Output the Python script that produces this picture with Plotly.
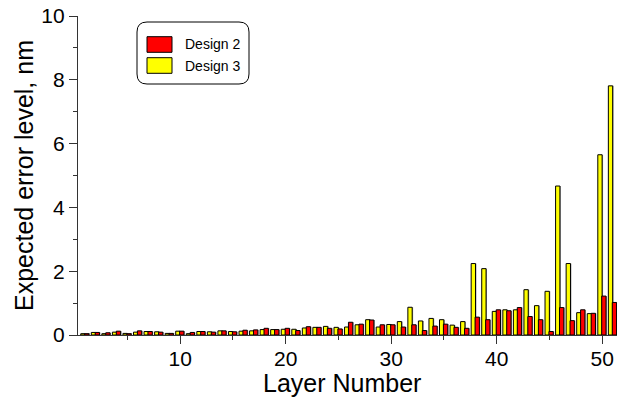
import plotly.graph_objects as go

layers = list(range(1, 52))
design2 = [0.04, 0.08, 0.07, 0.12, 0.04, 0.13, 0.11, 0.09, 0.05, 0.12,
           0.08, 0.11, 0.09, 0.13, 0.10, 0.15, 0.16, 0.21, 0.17, 0.21,
           0.14, 0.26, 0.24, 0.21, 0.19, 0.40, 0.34, 0.47, 0.32, 0.32,
           0.25, 0.32, 0.14, 0.28, 0.34, 0.24, 0.21, 0.56, 0.48, 0.79,
           0.76, 0.86, 0.58, 0.48, 0.11, 0.86, 0.45, 0.79, 0.68, 1.22,
           1.02]
design3 = [0.04, 0.08, 0.04, 0.09, 0.05, 0.09, 0.11, 0.10, 0.05, 0.12,
           0.04, 0.11, 0.10, 0.13, 0.11, 0.12, 0.13, 0.17, 0.17, 0.18,
           0.18, 0.22, 0.24, 0.27, 0.24, 0.25, 0.32, 0.48, 0.25, 0.33,
           0.42, 0.87, 0.44, 0.52, 0.48, 0.31, 0.42, 2.24, 2.08, 0.74,
           0.79, 0.79, 1.42, 0.92, 1.37, 4.67, 2.24, 0.70, 0.67, 5.65,
           7.81]
series_names = ["Design 2", "Design 3"]
series_colors = ["#ff0000", "#ffff00"]
x_tickvals = [10, 20, 30, 40, 50]
y_tickvals = [0, 2, 4, 6, 8, 10]

W, H = 626, 397
ML, MR, MT, MB = 78, 9, 16, 62
PW, PH = W - ML - MR, H - MT - MB

def px2x(p):
    return (p - ML) / PW

def px2y(p):
    return 1 - (p - MT) / PH

FONT = "Liberation Sans, Arial, Helvetica, sans-serif"
BW = 0.41
shadow_dx = 0.09

fig = go.Figure()
# Design 3 (yellow, left) with shadow
fig.add_trace(go.Bar(x=layers, y=design3, offset=-0.42 + shadow_dx, width=BW,
                     marker=dict(color="#9a9a9a", line=dict(width=0)),
                     showlegend=False, hoverinfo="skip"))
fig.add_trace(go.Bar(x=layers, y=design3, offset=-0.42, width=BW, name=series_names[1],
                     marker=dict(color=series_colors[1], line=dict(color="black", width=1)),
                     showlegend=False))
# Design 2 (red, right) with shadow
fig.add_trace(go.Bar(x=layers, y=design2, offset=-0.05 + shadow_dx, width=BW,
                     marker=dict(color="#9a9a9a", line=dict(width=0)),
                     showlegend=False, hoverinfo="skip"))
fig.add_trace(go.Bar(x=layers, y=design2, offset=-0.05, width=BW, name=series_names[0],
                     marker=dict(color=series_colors[0], line=dict(color="black", width=1)),
                     showlegend=False))

axis_common = dict(
    showgrid=False, zeroline=False, showline=True, linecolor="#333", linewidth=1.3,
    ticks="outside", ticklen=8, tickwidth=1, tickcolor="#333", automargin=False,
    tickfont=dict(family=FONT, size=21, color="black"),
)
fig.update_xaxes(range=[0.32, 51.4], tickvals=x_tickvals, ticklabelstandoff=-3,
                 minor=dict(dtick=5, tick0=0, ticks="outside", ticklen=4, tickcolor="#333"),
                 **axis_common)
fig.update_yaxes(range=[0, 10], tickvals=y_tickvals,
                 minor=dict(dtick=1, tick0=0, ticks="outside", ticklen=4, tickcolor="#333"),
                 title=dict(text="Expected error level, nm", font=dict(family=FONT, size=25, color="black"), standoff=0),
                 **axis_common)

# custom legend
x0, x1, y0, y1 = 137, 249, 22, 84
r = 10
rx, ry = r / PW, r / PH
X0, X1, Y0, Y1 = px2x(x0), px2x(x1), px2y(y0), px2y(y1)
path = (f"M {X0+rx},{Y0} L {X1-rx},{Y0} Q {X1},{Y0} {X1},{Y0-ry} "
        f"L {X1},{Y1+ry} Q {X1},{Y1} {X1-rx},{Y1} L {X0+rx},{Y1} "
        f"Q {X0},{Y1} {X0},{Y1+ry} L {X0},{Y0-ry} Q {X0},{Y0} {X0+rx},{Y0} Z")
shapes = [dict(type="path", xref="paper", yref="paper", path=path,
               line=dict(color="black", width=1), fillcolor="white", layer="above")]
annotations = [dict(xref="paper", yref="paper", x=px2x(342), y=px2y(383),
                    text="Layer Number", showarrow=False, xanchor="center", yanchor="middle",
                    font=dict(family=FONT, size=25, color="black"))]
rows = [(36.7, 52.3, series_colors[0], series_names[0]), (57.7, 73.3, series_colors[1], series_names[1])]
for (sy0, sy1, col, name) in rows:
    shapes.append(dict(type="rect", xref="paper", yref="paper",
                       x0=px2x(147), x1=px2x(172), y0=px2y(sy1), y1=px2y(sy0),
                       line=dict(color="black", width=1), fillcolor=col, layer="above"))
    annotations.append(dict(xref="paper", yref="paper", x=px2x(183), y=px2y((sy0 + sy1) / 2),
                            text=name, showarrow=False, xanchor="left", yanchor="middle",
                            font=dict(family=FONT, size=14, color="black")))

fig.update_layout(
    width=W, height=H, margin=dict(l=ML, r=MR, t=MT, b=MB),
    barmode="overlay", plot_bgcolor="white", paper_bgcolor="white",
    shapes=shapes, annotations=annotations, showlegend=False,
    font=dict(family=FONT),
)
fig.write_html("out.html")
